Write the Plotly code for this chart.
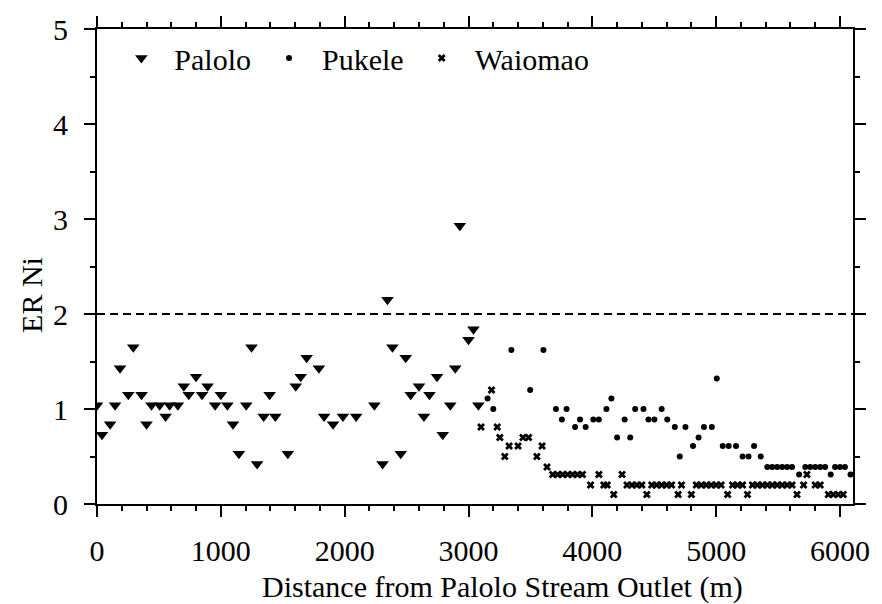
import plotly.graph_objects as go

# ---------------- data ----------------
palolo_x = [0, 40, 106, 146, 186, 253, 293, 360, 400, 440, 506, 554, 586, 653, 701, 741,
            800, 848, 893, 954, 1000, 1053, 1098, 1146, 1205, 1248, 1293, 1346, 1394, 1440,
            1541, 1605, 1645, 1693, 1792, 1834, 1906, 1986, 2093, 2240, 2306, 2346, 2386,
            2453, 2493, 2533, 2600, 2640, 2685, 2746, 2792, 2853, 2893, 2930, 3000, 3040, 3080]
palolo_y = [1.04, 0.73, 0.84, 1.04, 1.43, 1.15, 1.65, 1.15, 0.84, 1.04, 1.04, 0.92, 1.04, 1.04,
            1.24, 1.15, 1.34, 1.15, 1.24, 1.04, 1.15, 1.04, 0.84, 0.53, 1.04, 1.65, 0.42, 0.92,
            1.15, 0.92, 0.53, 1.24, 1.34, 1.54, 1.43, 0.92, 0.84, 0.92, 0.92, 1.04, 0.42, 2.15,
            1.65, 0.53, 1.54, 1.15, 1.24, 0.92, 1.15, 1.34, 0.73, 1.04, 1.43, 2.93, 1.73, 1.84, 1.04]

pukele_x = [3154, 3200, 3346, 3498, 3605, 3706, 3754, 3792, 3861, 3901, 3946, 4008, 4053, 4114,
            4154, 4200, 4261, 4306, 4346, 4413, 4453, 4501, 4560, 4605, 4666, 4706, 4752, 4813,
            4858, 4901, 4965, 5005, 5053, 5101, 5160, 5213, 5261, 5306, 5360, 5413, 5453, 5493,
            5533, 5573, 5613, 5670, 5720, 5760, 5800, 5840, 5880, 5925, 5960, 6000, 6040, 6085]
pukele_y = [1.11, 1.00, 1.62, 1.20, 1.62, 1.00, 0.89, 1.00, 0.81, 0.89, 0.81, 0.89, 0.89, 1.00,
            1.11, 0.70, 0.89, 0.70, 1.00, 1.00, 0.89, 0.89, 1.00, 0.89, 0.81, 0.50, 0.81, 0.61,
            0.70, 0.81, 0.81, 1.32, 0.61, 0.61, 0.61, 0.50, 0.50, 0.61, 0.50, 0.39, 0.39, 0.39,
            0.39, 0.39, 0.39, 0.31, 0.39, 0.39, 0.39, 0.39, 0.39, 0.31, 0.39, 0.39, 0.39, 0.31]

waiomao_x = [3101, 3186, 3232, 3253, 3293, 3328, 3400, 3440, 3485, 3552, 3594, 3634, 3680, 3720,
             3760, 3800, 3840, 3880, 3920, 3986, 4053, 4093, 4120, 4173, 4240, 4280, 4320, 4360,
             4400, 4440, 4480, 4520, 4560, 4600, 4640, 4693, 4720, 4800, 4840, 4880, 4920, 4960,
             5000, 5040, 5093, 5133, 5173, 5213, 5253, 5293, 5333, 5373, 5413, 5453, 5493, 5533,
             5573, 5613, 5653, 5706, 5733, 5800, 5840, 5906, 5946, 5986, 6026]
waiomao_y = [0.81, 1.20, 0.81, 0.70, 0.50, 0.61, 0.61, 0.70, 0.70, 0.50, 0.61, 0.39, 0.31, 0.31,
             0.31, 0.31, 0.31, 0.31, 0.31, 0.20, 0.31, 0.20, 0.20, 0.10, 0.31, 0.20, 0.20, 0.20,
             0.20, 0.10, 0.20, 0.20, 0.20, 0.20, 0.20, 0.10, 0.20, 0.10, 0.20, 0.20, 0.20, 0.20,
             0.20, 0.20, 0.10, 0.20, 0.20, 0.20, 0.10, 0.20, 0.20, 0.20, 0.20, 0.20, 0.20, 0.20,
             0.20, 0.20, 0.10, 0.20, 0.31, 0.20, 0.20, 0.10, 0.10, 0.10, 0.10]

threshold = 2
x_tick_vals = [0, 1000, 2000, 3000, 4000, 5000, 6000]
y_tick_vals = [0, 1, 2, 3, 4, 5]

FONT = "Liberation Serif"
FS = 30

fig = go.Figure()
fig.add_trace(go.Scatter(x=palolo_x, y=palolo_y, mode="markers", name="Palolo",
                         marker=dict(symbol="triangle-down", size=11, color="black")))
fig.add_trace(go.Scatter(x=pukele_x, y=pukele_y, mode="markers", name="Pukele",
                         marker=dict(symbol="circle", size=6, color="black")))
fig.add_trace(go.Scatter(x=waiomao_x, y=waiomao_y, mode="markers", name="Waiomao",
                         marker=dict(symbol="x", size=7, color="black", line=dict(width=0))))

fig.add_hline(y=threshold, line=dict(color="black", width=2, dash="8px,5px"))

axis_common = dict(showline=True, linewidth=2, linecolor="black", mirror="ticks",
                   ticks="outside", ticklen=11, tickwidth=2, tickcolor="black",
                   showgrid=False, zeroline=False,
                   tickfont=dict(family=FONT, size=FS, color="black"))

fig.update_xaxes(range=[0, 6105], tickvals=x_tick_vals, ticklabelstandoff=8,
                 minor=dict(dtick=200, ticks="outside", ticklen=5, tickwidth=2, tickcolor="black"),
                 **axis_common)
fig.update_yaxes(range=[0, 5], tickvals=y_tick_vals, ticklabelstandoff=10,
                 minor=dict(dtick=0.5, ticks="outside", ticklen=5, tickwidth=2, tickcolor="black"),
                 **axis_common)

fig.add_annotation(text="Distance from Palolo Stream Outlet (m)", xref="paper", yref="paper",
                   x=0.537, y=-0.1745, xanchor="center", yanchor="middle", showarrow=False,
                   font=dict(family=FONT, size=FS, color="black"))
fig.add_annotation(text="ER Ni", xref="paper", yref="paper", textangle=-90,
                   x=-0.0874, y=0.44, xanchor="center", yanchor="middle", showarrow=False,
                   font=dict(family=FONT, size=FS, color="black"))

fig.update_layout(
    width=882, height=604,
    margin=dict(l=97, r=22, t=23, b=100),
    paper_bgcolor="white", plot_bgcolor="white",
    font=dict(family=FONT, size=FS, color="black"),
    showlegend=True,
    legend=dict(orientation="h", x=0.015, y=0.939, xanchor="left", yanchor="middle",
                bgcolor="rgba(0,0,0,0)", font=dict(family=FONT, size=FS, color="black"),
                itemwidth=56, tracegroupgap=0),
)

fig.write_html("out.html")
